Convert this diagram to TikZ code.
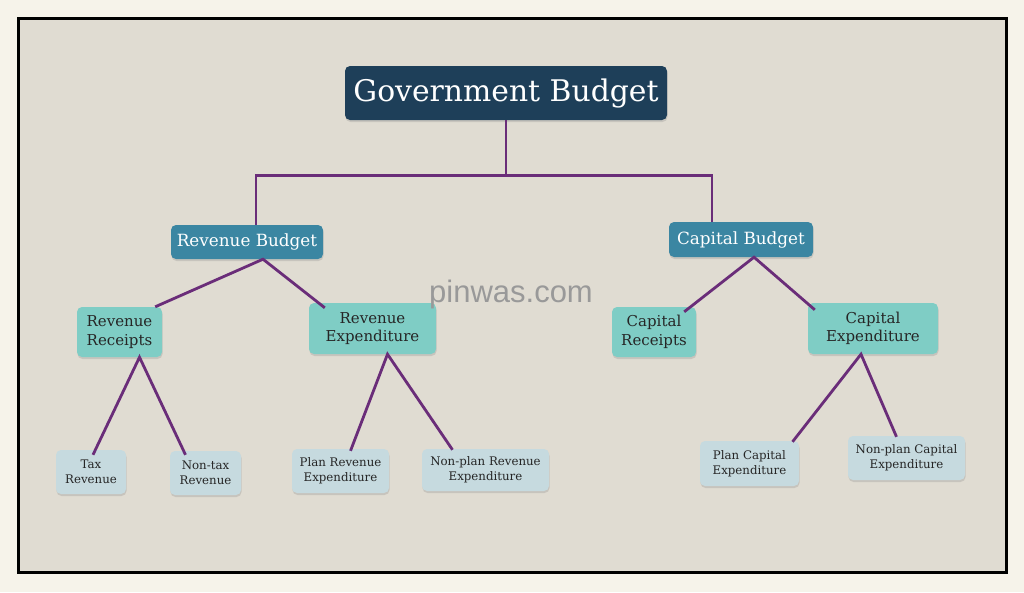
\documentclass[tikz,border=0pt]{standalone}
\usepackage{fontspec}
\setmainfont{DejaVu Serif}
\newfontfamily\wmfont{Liberation Sans}
\usetikzlibrary{calc,shadows}
\definecolor{bgouter}{HTML}{F6F3EA}
\definecolor{bginner}{HTML}{E0DCD2}
\definecolor{navy}{HTML}{1E3F59}
\definecolor{midblue}{HTML}{3B86A2}
\definecolor{aqua}{HTML}{7FCDC5}
\definecolor{leafblue}{HTML}{C6DADF}
\definecolor{linkpurple}{HTML}{6A2D79}
\begin{document}
\begin{tikzpicture}[x=1pt,y=-1pt,
    box/.style={rounded corners=5pt, align=center, inner sep=1pt,
      drop shadow={opacity=0.25,shadow xshift=0.5pt,shadow yshift=-2pt}},
    topbox/.style={box, fill=navy, text=white, font=\fontsize{29.8}{33}\selectfont},
    budbox/.style={box, fill=midblue, text=white, font=\fontsize{16.8}{20}\selectfont},
    partbox/.style={box, fill=aqua, text=black!85, font=\fontsize{15}{18.5}\selectfont},
    leafbox/.style={box, fill=leafblue, text=black!85, font=\fontsize{11.8}{15}\selectfont},
    link/.style={draw=linkpurple, line width=2.8pt}]
  \fill[bgouter] (0,0) rectangle (1024,592);
  \draw[line width=3pt, fill=bginner] (18,18) rectangle (1006,572);

  \node[topbox, minimum width=322, minimum height=54] (gb) at (506,93) {Government Budget};
  \node[budbox, minimum width=152, minimum height=34] (rb) at (247,242) {Revenue Budget};
  \node[budbox, minimum width=144, minimum height=35] (cb) at (741,239.5) {Capital Budget};

  \node[partbox, minimum width=85, minimum height=50] (rr) at (119.5,332) {Revenue\\Receipts};
  \node[partbox, minimum width=127, minimum height=51] (re) at (372.5,328.5) {Revenue\\Expenditure};
  \node[partbox, minimum width=84, minimum height=50] (cr) at (654,332) {Capital\\Receipts};
  \node[partbox, minimum width=130, minimum height=51] (ce) at (873,328.5) {Capital\\Expenditure};

  \node[leafbox, minimum width=70, minimum height=44] (tax) at (91,472) {Tax\\Revenue};
  \node[leafbox, minimum width=71, minimum height=44] (ntax) at (205.5,473) {Non-tax\\Revenue};
  \node[leafbox, minimum width=97, minimum height=44] (pre) at (340.5,471) {Plan Revenue\\Expenditure};
  \node[leafbox, minimum width=127, minimum height=42] (npre) at (485.5,470) {Non-plan Revenue\\Expenditure};
  \node[leafbox, minimum width=99, minimum height=45] (pce) at (749.5,463.5) {Plan Capital\\Expenditure};
  \node[leafbox, minimum width=117, minimum height=44] (npce) at (906.5,458) {Non-plan Capital\\Expenditure};

  \node[text=black!40, font=\wmfont\fontsize{31}{34}\selectfont] (wm) at (511,294) {pinwas.com};

  % tree
  \draw[link] (gb.south) -- ++(0,55) coordinate (split);
  \draw[link] ($(rb.north)+(9,0)$) |- (split) -| ($(cb.north)+(-29,0)$);
  \draw[link] ($(rr.north east)+(-7,0)$) -- ($(rb.south)+(16,0)$) -- ($(re.north west)+(16,5)$);
  \draw[link] ($(cr.north east)+(-12,5)$) -- ($(cb.south)+(13,0)$) -- ($(ce.north west)+(7,7)$);
  \draw[link] ($(tax.north)+(2,5)$) -- ($(rr.south)+(20,0)$) -- ($(ntax.north)+(-20,4)$);
  \draw[link] ($(pre.north)+(10,2)$) -- ($(re.south)+(15,0)$) -- ($(npre.north)+(-33,1)$);
  \draw[link] ($(pce.north)+(43,1)$) -- ($(ce.south)+(-12,0)$) -- ($(npce.north)+(-10,1)$);
\end{tikzpicture}
\end{document}
